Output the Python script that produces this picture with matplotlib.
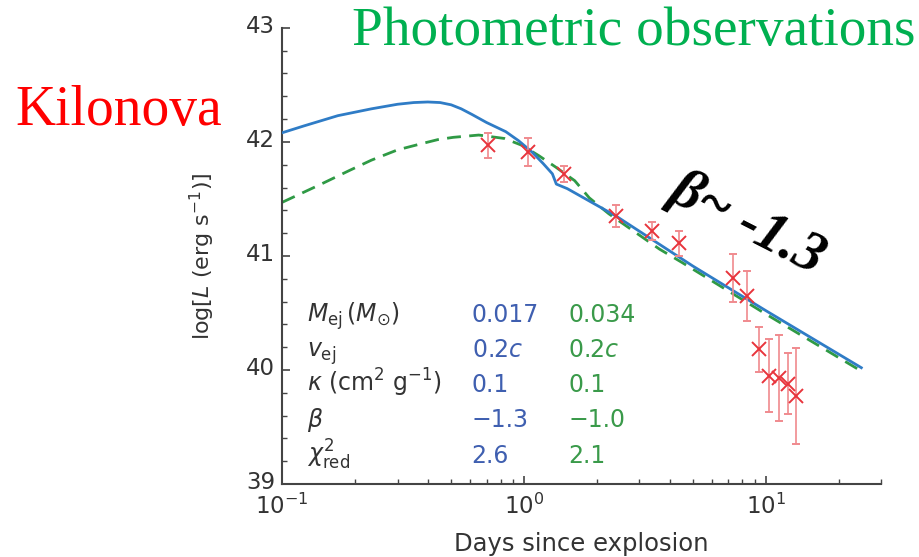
import matplotlib
matplotlib.use("Agg")
import matplotlib.pyplot as plt
from matplotlib.ticker import MultipleLocator
from matplotlib.transforms import ScaledTranslation

# model curves (days, log L)
blue_days = [0.10, 0.123, 0.17, 0.234, 0.30, 0.35, 0.40, 0.45, 0.50, 0.55, 0.61, 0.70, 0.84, 0.95, 1.08, 1.20,
             1.31, 1.36, 1.51, 2.40, 5.0, 10.0, 24.8]
blue_logL = [42.08, 42.14, 42.23, 42.29, 42.33, 42.345, 42.35, 42.345, 42.325, 42.29, 42.24, 42.17, 42.09, 42.01,
             41.91, 41.81, 41.72, 41.63, 41.59, 41.35, 40.91, 40.52, 40.02]

green_days = [0.10, 0.145, 0.19, 0.234, 0.30, 0.37, 0.44, 0.51, 0.65, 0.83, 0.98, 1.15, 1.35, 1.62, 1.86, 2.24,
              3.63, 4.52, 10.0, 24.8]
green_logL = [41.47, 41.63, 41.75, 41.84, 41.93, 41.98, 42.02, 42.04, 42.06, 42.03, 41.97, 41.88, 41.78, 41.66,
              41.51, 41.37, 41.06, 40.94, 40.49, 39.99]

# photometric points
obs_days = [0.71, 1.04, 1.46, 2.40, 3.39, 4.38, 7.31, 8.36, 9.35, 10.3, 11.3, 12.3, 13.3]
obs_logL = [41.97, 41.91, 41.72, 41.35, 41.22, 41.11, 40.81, 40.65, 40.18, 39.95, 39.93, 39.88, 39.77]
obs_err = [0.11, 0.12, 0.07, 0.10, 0.08, 0.11, 0.21, 0.22, 0.20, 0.32, 0.38, 0.27, 0.42]

param_labels = [r"$M_{\mathrm{ej}}\,(M_{\odot})$", r"$v_{\mathrm{ej}}$",
                r"$\kappa$ (cm$^2$ g$^{-1}$)", r"$\beta$", r"$\chi^2_{\mathrm{red}}$"]
blue_params = ["0.017", r"0.2$c$", "0.1", "\u22121.3", "2.6"]
green_params = ["0.034", r"0.2$c$", "0.1", "\u22121.0", "2.1"]

BLUE = "#2f7cc6"
GREEN = "#2f9a45"

fig = plt.figure(figsize=(9.19, 5.57), dpi=100)
ax = fig.add_axes([0.307, 0.131, 0.652, 0.819])

ax.plot(blue_days, blue_logL, color=BLUE, lw=2.0, zorder=3)
ax.plot(green_days, green_logL, color=GREEN, lw=2.0, ls=(0, (5, 3)), zorder=2)
ax.errorbar(obs_days, obs_logL, yerr=obs_err, fmt="x", color="#e8343c", ms=9.5, mew=1.4,
            ecolor="#f08a8e", elinewidth=1.2, capsize=3, capthick=1.0, zorder=4)

ax.set_xscale("log")
ax.set_xlim(0.1, 30)
ax.set_ylim(39, 43)
ax.yaxis.set_major_locator(MultipleLocator(1))
ax.yaxis.set_minor_locator(MultipleLocator(0.2))

for side in ["top", "right"]:
    ax.spines[side].set_visible(False)
for side in ["left", "bottom"]:
    ax.spines[side].set_color("#444444")
    ax.spines[side].set_linewidth(1.5)

ax.tick_params(which="both", direction="in", color="#444444", labelcolor="#333333")
ax.tick_params(which="major", length=6, width=1.2, labelsize=16.5, pad=5)
ax.tick_params(axis="x", which="major", pad=7)
ax.tick_params(which="minor", length=3.5, width=1.0)

# y tick labels sit a little above their ticks in the original
lift = ScaledTranslation(0, 3 / 72, fig.dpi_scale_trans)
for lab in ax.get_yticklabels():
    lab.set_transform(lab.get_transform() + lift)

ax.set_xlabel("Days since explosion", fontsize=17.5, color="#333333")
ax.set_ylabel(r"log[$L$ (erg s$^{-1}$)]", fontsize=16, color="#333333")
ax.xaxis.set_label_coords(0.5, -0.105)
ax.yaxis.set_label_coords(-0.108, 0.5)

# parameter table
row_y = [0.4219, 0.3591, 0.2962, 0.2334, 0.1688]
for y, lab, bv, gv in zip(row_y, param_labels, blue_params, green_params):
    fig.text(0.3337, y, lab, fontsize=17, color="#333333", va="baseline")
    fig.text(0.5133, y, bv, fontsize=17, color="#3f5fb0", va="baseline")
    fig.text(0.6184, y, gv, fontsize=17, color="#3a9a4a", va="baseline")

fig.text(0.0163, 0.7756, "Kilonova", fontsize=40, color="#ff0000",
         family="Liberation Serif", va="baseline")
fig.text(0.3827, 0.919, "Photometric observations", fontsize=39.8, color="#00b050",
         family="Liberation Serif", va="baseline")
fig.text(0.814, 0.598, "\u03b2~ -1.3", fontsize=41, color="black", family="Liberation Serif",
         weight="bold", style="italic", rotation=-27, ha="center", va="center",
         rotation_mode="anchor")

fig.savefig("out.png", dpi=100)
